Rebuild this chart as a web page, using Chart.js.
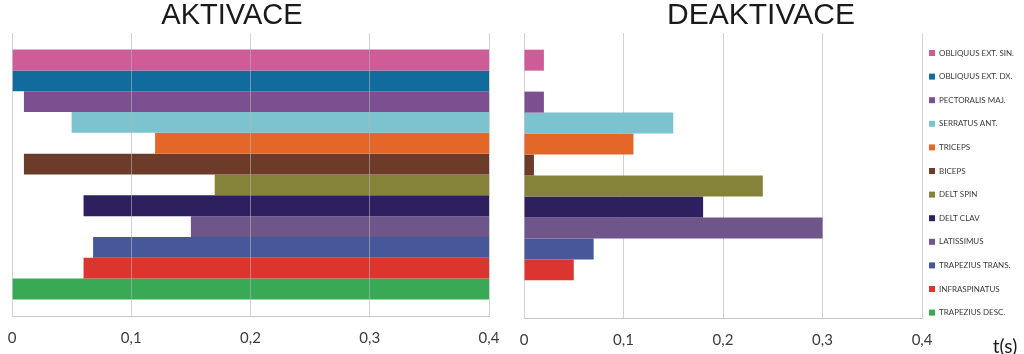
<!DOCTYPE html>
<html>
<head>
<meta charset="utf-8">
<script src="https://cdn.jsdelivr.net/npm/chart.js@4"></script>
<style>
  body { margin: 0; background: #fff; width: 1024px; height: 354px; overflow: hidden; position: relative; }
  canvas { position: absolute; top: 0; }
  #aktivace { left: 0; }
  #deaktivace { left: 510px; }
</style>
</head>
<body>
<canvas id="aktivace" width="510" height="354"></canvas>
<canvas id="deaktivace" width="514" height="354"></canvas>
<script>
const musculos = [
    'OBLIQUUS EXT. SIN.', 'OBLIQUUS EXT. DX.', 'PECTORALIS MAJ.', 'SERRATUS ANT.',
    'TRICEPS', 'BICEPS', 'DELT SPIN', 'DELT CLAV', 'LATISSIMUS',
    'TRAPEZIUS TRANS.', 'INFRASPINATUS', 'TRAPEZIUS DESC.'
];
const colores = [
    '#cd5c97', '#116c9d', '#7b4f90', '#7cc3cf', '#e4672a', '#6c3b29',
    '#85833a', '#2e1f5e', '#6e568b', '#47589a', '#dc352f', '#38a955'
];
// AKTIVACE: barras flotantes desde el inicio hasta el final
const inicioAktivace = [0, 0, 0.01, 0.05, 0.12, 0.01, 0.17, 0.06, 0.15, 0.068, 0.06, 0];
const finAktivace = [0.4, 0.4, 0.4, 0.4, 0.4, 0.4, 0.4, 0.4, 0.4, 0.4, 0.4, 0.4];
const deaktivace = [0.02, 0, 0.02, 0.15, 0.11, 0.01, 0.24, 0.18, 0.30, 0.07, 0.05, 0];
const etiquetasX = ['0', '0,1', '0,2', '0,3', '0,4'];

const textosPlugin = {
    id: 'textos',
    afterDraw(chart, args, opts) {
        const ctx = chart.ctx;
        for (const t of opts.items || []) {
            ctx.save();
            ctx.font = t.font;
            ctx.fillStyle = '#1a1a1a';
            ctx.textAlign = 'center';
            ctx.textBaseline = t.baseline || 'alphabetic';
            ctx.fillText(t.text, t.x, t.y);
            ctx.restore();
        }
    }
};

function ejeX(colorRejilla, sobreBarras, alto) {
    const z = sobreBarras ? 1 : 0;
    return {
        min: 0,
        max: 0.4,
        afterFit: (eje) => {
            eje.height = alto;
            eje.paddingLeft = 0;
            eje.paddingRight = 0;
        },
        ticks: {
            stepSize: 0.1,
            padding: 13,
            color: '#3c3c3c',
            font: { family: 'Lato', size: 15 },
            callback: (v, i) => etiquetasX[i]
        },
        grid: { color: colorRejilla, drawTicks: false, z: z },
        border: { color: '#c6c6c6', z: z }
    };
}

const datosAktivace = musculos.map((m, i) => ({
    label: m,
    data: [[inicioAktivace[i], finAktivace[i]]],
    backgroundColor: colores[i],
    borderWidth: 0,
    categoryPercentage: 0.883,
    barPercentage: 1
}));

const datosDeaktivace = musculos.map((m, i) => ({
    label: m,
    data: [deaktivace[i]],
    backgroundColor: colores[i],
    borderWidth: 0,
    categoryPercentage: 0.883,
    barPercentage: 1
}));

new Chart(document.getElementById('aktivace'), {
    type: 'bar',
    data: { labels: [''], datasets: datosAktivace },
    options: {
        indexAxis: 'y',
        responsive: false,
        animation: false,
        layout: { padding: { left: 12, right: 21, top: 33, bottom: 0 } },
        scales: {
            x: ejeX('rgba(180,180,180,0.6)', true, 38),
            y: { display: false }
        },
        plugins: {
            legend: { display: false },
            tooltip: { enabled: false },
            textos: { items: [
                { text: 'AKTIVACE', x: 232, y: 24, font: '29px "Liberation Sans"' }
            ] }
        }
    },
    plugins: [textosPlugin]
});

new Chart(document.getElementById('deaktivace'), {
    type: 'bar',
    data: { labels: [''], datasets: datosDeaktivace },
    options: {
        indexAxis: 'y',
        responsive: false,
        animation: false,
        layout: { padding: { left: 14, right: 0, top: 33, bottom: 0 } },
        scales: {
            x: ejeX('#d2d2d2', false, 36),
            y: { display: false }
        },
        plugins: {
            legend: {
                position: 'right',
                align: 'start',
                maxWidth: 104,
                title: { display: true, text: '', font: { size: 9, lineHeight: 1 }, padding: 0 },
                labels: {
                    boxWidth: 6,
                    boxHeight: 6,
                    padding: 7,
                    color: '#3a3a3a',
                    font: { family: 'Lato', size: 8, lineHeight: 2.075 },
                    generateLabels: (chart) =>
                        Chart.defaults.plugins.legend.labels.generateLabels(chart)
                            .map(item => ({ ...item, text: [item.text], lineWidth: 0 }))
                }
            },
            tooltip: { enabled: false },
            textos: { items: [
                { text: 'DEAKTIVACE', x: 251, y: 24, font: '30px "Liberation Sans"' },
                { text: 't(s)', x: 495, y: 347, font: '19px Lato', baseline: 'middle' }
            ] }
        }
    },
    plugins: [textosPlugin]
});
</script>
</body>
</html>
